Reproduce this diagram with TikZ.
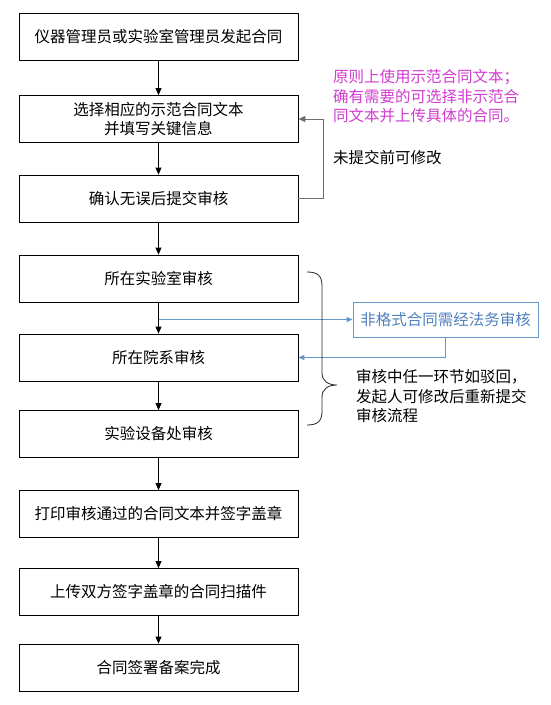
\documentclass[tikz,border=0pt]{standalone}
\usepackage{fontspec}
\newfontfamily\cjk{Noto Sans CJK SC}
\usetikzlibrary{arrows.meta}
\definecolor{mag}{RGB}{210,60,210}
\definecolor{lblue}{RGB}{100,150,200}
\definecolor{tblue}{RGB}{80,130,190}
\definecolor{fgray}{RGB}{110,110,110}
\begin{document}
\begin{tikzpicture}[x=1pt,y=-1pt,
  every node/.style={font=\cjk\fontsize{15.5}{19.5}\selectfont, inner sep=0pt},
  stepbox/.style={draw=black, line width=0.8pt, minimum width=279pt, minimum height=47pt, align=center},
  flow/.style={draw=black, line width=0.8pt, -{Triangle[width=6pt,length=7pt]}},
  blueflow/.style={draw=lblue, line width=0.9pt, -{Triangle[width=5pt,length=6pt]}},
  note/.style={align=left, anchor=west}]
\fill[white] (0,0) rectangle (550,705);
\useasboundingbox (0,0) rectangle (550,705);

\node[stepbox] (b1) at (158.5,37) {仪器管理员或实验室管理员发起合同};
\node[stepbox] (b2) at (158.5,119) {选择相应的示范合同文本\\并填写关键信息};
\node[stepbox] (b3) at (158.5,198.5) {确认无误后提交审核};
\node[stepbox] (b4) at (158.5,278.5) {所在实验室审核};
\node[stepbox] (b5) at (158.5,357.5) {所在院系审核};
\node[stepbox] (b6) at (158.5,434) {实验设备处审核};
\node[stepbox] (b7) at (158.5,514) {打印审核通过的合同文本并签字盖章};
\node[stepbox] (b8) at (158.5,592) {上传双方签字盖章的合同扫描件};
\node[stepbox] (b9) at (158.5,667.5) {合同签署备案完成};

\draw[flow] (b1) -- (b2);
\draw[flow] (b2) -- (b3);
\draw[flow] (b3) -- (b4);
\draw[flow] (b4) -- (b5);
\draw[flow] (b5) -- (b6);
\draw[flow] (b6) -- (b7);
\draw[flow] (b7) -- (b8);
\draw[flow] (b8) -- (b9);

% feedback loop
\draw[draw=fgray, line width=1pt, -{Triangle[width=6pt,length=7pt]}] (b3.east) -- ++(25,0) coordinate (fb) |- (b2.east);
\node[note] (t1) at (333,158) {未提交前可修改};

% magenta note
\node[note, text=mag] (t2) at (333,96.5) {原则上使用示范合同文本；\\确有需要的可选择非示范合\\同文本并上传具体的合同。};

% blue legal review
\node[draw=lblue, line width=0.8pt, minimum width=185pt, minimum height=35pt, text=tblue] (lg) at (445.5,319.5) {非格式合同需经法务审核};
\coordinate (sp) at (b4.south |- lg.west);
\draw[blueflow] (sp) -- (lg.west);
\draw[blueflow] (lg.south) |- (b5.east);

% brace
\coordinate (br) at (337,385);
\draw[line width=0.8pt, black!85] (307,272) .. controls (318,272) and (322,276) .. (322,286)
  -- (322,373) .. controls (322,381) and (328,385) .. (br)
  .. controls (328,385) and (322,389) .. (322,397)
  -- (322,411) .. controls (322,421) and (318,425) .. (307,425);
\node[note] (t3) at (356,396.5) {审核中任一环节如驳回，\\发起人可修改后重新提交\\审核流程};
\end{tikzpicture}
\end{document}
